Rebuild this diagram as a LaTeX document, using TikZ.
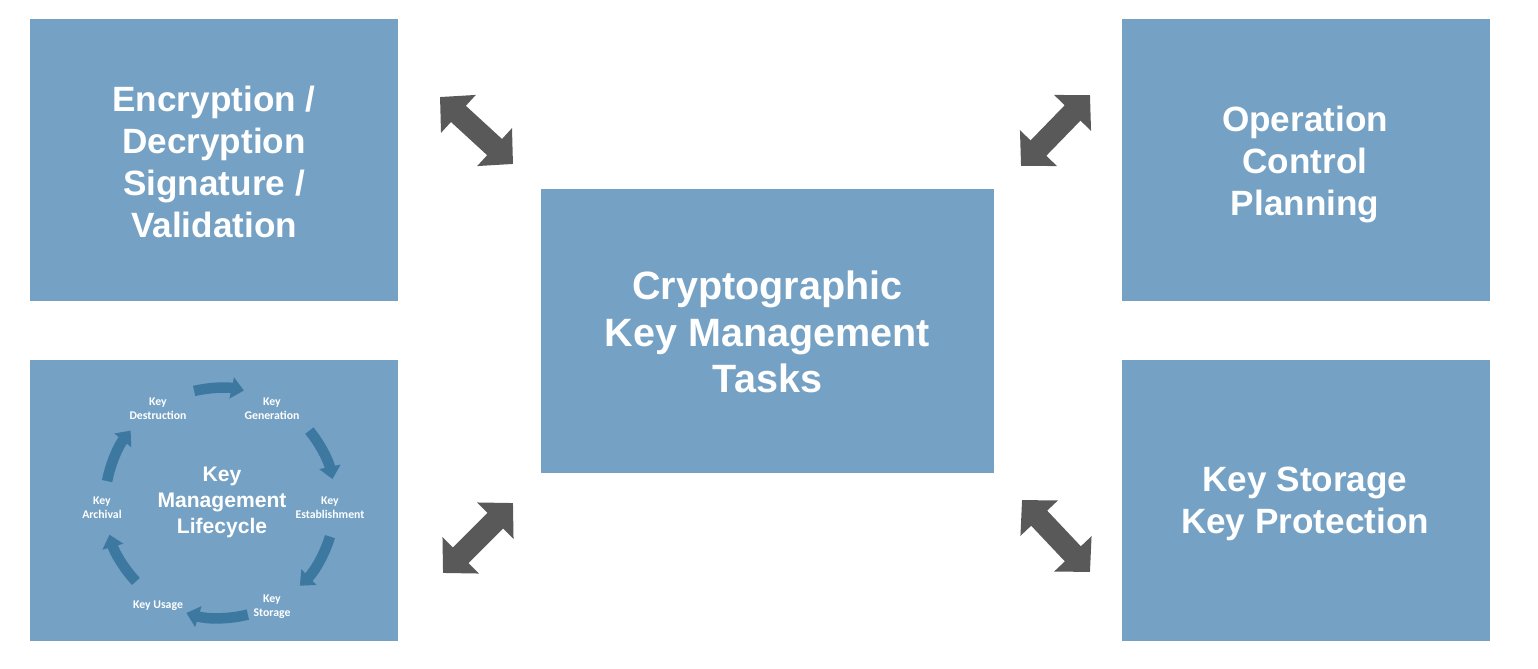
\documentclass[tikz,border=0pt]{standalone}
\usepackage{fontspec}
\setmainfont{Liberation Sans}
\newfontfamily\smallfont{Carlito}
\usetikzlibrary{arrows.meta,calc}
\definecolor{boxblue}{HTML}{74A1C4}
\definecolor{arrowgrey}{HTML}{595959}
\definecolor{cyclearrow}{HTML}{3D78A1}
\begin{document}
\begin{tikzpicture}[x=0.02cm,y=-0.02cm,
  box/.style={fill=boxblue, draw=none, inner sep=0pt, outer sep=0pt},
  sidebox/.style={box, minimum width=7.36cm, minimum height=5.64cm},
  centerbox/.style={box, minimum width=9.06cm, minimum height=5.68cm},
  boxtext/.style={text=white, align=center, inner sep=0pt,
    font=\bfseries\fontsize{20}{23.8}\selectfont},
  centertext/.style={boxtext, font=\bfseries\fontsize{22.5}{26.6}\selectfont},
  bigarrow/.style={draw=arrowgrey, fill=arrowgrey, line width=0.44cm,
    {Triangle[length=0.5cm,width=1cm]}-{Triangle[length=0.5cm,width=1cm]}},
  cyclabel/.style={text=white, align=center, inner sep=0pt,
    font=\smallfont\bfseries\fontsize{6.7}{8}\selectfont},
  cyctitle/.style={text=white, align=center, inner sep=0pt,
    font=\bfseries\fontsize{12}{14.8}\selectfont},
  cycarrow/.style={draw=cyclearrow, line width=0.21cm,
    -{Triangle[length=0.25cm,width=0.42cm]}}
]
\useasboundingbox (0,0) rectangle (1538,669);

% boxes
\node[sidebox] (enc) at (214,160) {};
\node[sidebox] (life) at (214,500.5) {};
\node[centerbox] (ckm) at (767.5,331) {};
\node[sidebox] (ocp) at (1306,160) {};
\node[sidebox] (ksp) at (1306,500.5) {};

% box texts
\node[boxtext] (enct) at (214,162) {Encryption /\\Decryption\\Signature /\\Validation};
\node[centertext] (ckmt) at (767.5,332) {Cryptographic\\Key Management\\Tasks};
\node[boxtext] (ocpt) at (1305,164.5) {Operation\\Control\\Planning};
\node[boxtext] (kspt) at (1305,503.5) {Key Storage\\Key Protection};

% big double arrows
\coordinate (a1s) at (440,97);   \coordinate (a1e) at (513,164);
\coordinate (a2s) at (1090,95);  \coordinate (a2e) at (1021,166);
\coordinate (a3s) at (513,503);  \coordinate (a3e) at (443,573);
\coordinate (a4s) at (1022,500); \coordinate (a4e) at (1090,572);
\draw[bigarrow] (a1s) -- (a1e);
\draw[bigarrow] (a2s) -- (a2e);
\draw[bigarrow] (a3s) -- (a3e);
\draw[bigarrow] (a4s) -- (a4e);

% lifecycle
\coordinate (C) at (220,503);
\node[cyctitle] (lct) at (222,502) {Key\\Management\\Lifecycle};
\node[cyclabel] (kdes) at (158,409) {Key\\Destruction};
\node[cyclabel] (kgen) at (272,409) {Key\\Generation};
\node[cyclabel] (kest) at (330,508) {Key\\Establishment};
\node[cyclabel] (ksto) at (272,607) {Key\\Storage};
\node[cyclabel] (kuse) at (158,606) {Key Usage};
\node[cyclabel] (karc) at (102,508) {Key\\Archival};

\draw[cycarrow] ($(C)+(-103:115)$) arc[start angle=-103, end angle=-78, radius=115];
\draw[cycarrow] ($(C)+(-39:115)$) arc[start angle=-39, end angle=-12, radius=115];
\draw[cycarrow] ($(C)+(17:115)$) arc[start angle=17, end angle=46, radius=115];
\draw[cycarrow] ($(C)+(76:115)$) arc[start angle=76, end angle=107, radius=115];
\draw[cycarrow] ($(C)+(137:115)$) arc[start angle=137, end angle=164, radius=115];
\draw[cycarrow] ($(C)+(191:115)$) arc[start angle=191, end angle=219, radius=115];
\end{tikzpicture}
\end{document}
